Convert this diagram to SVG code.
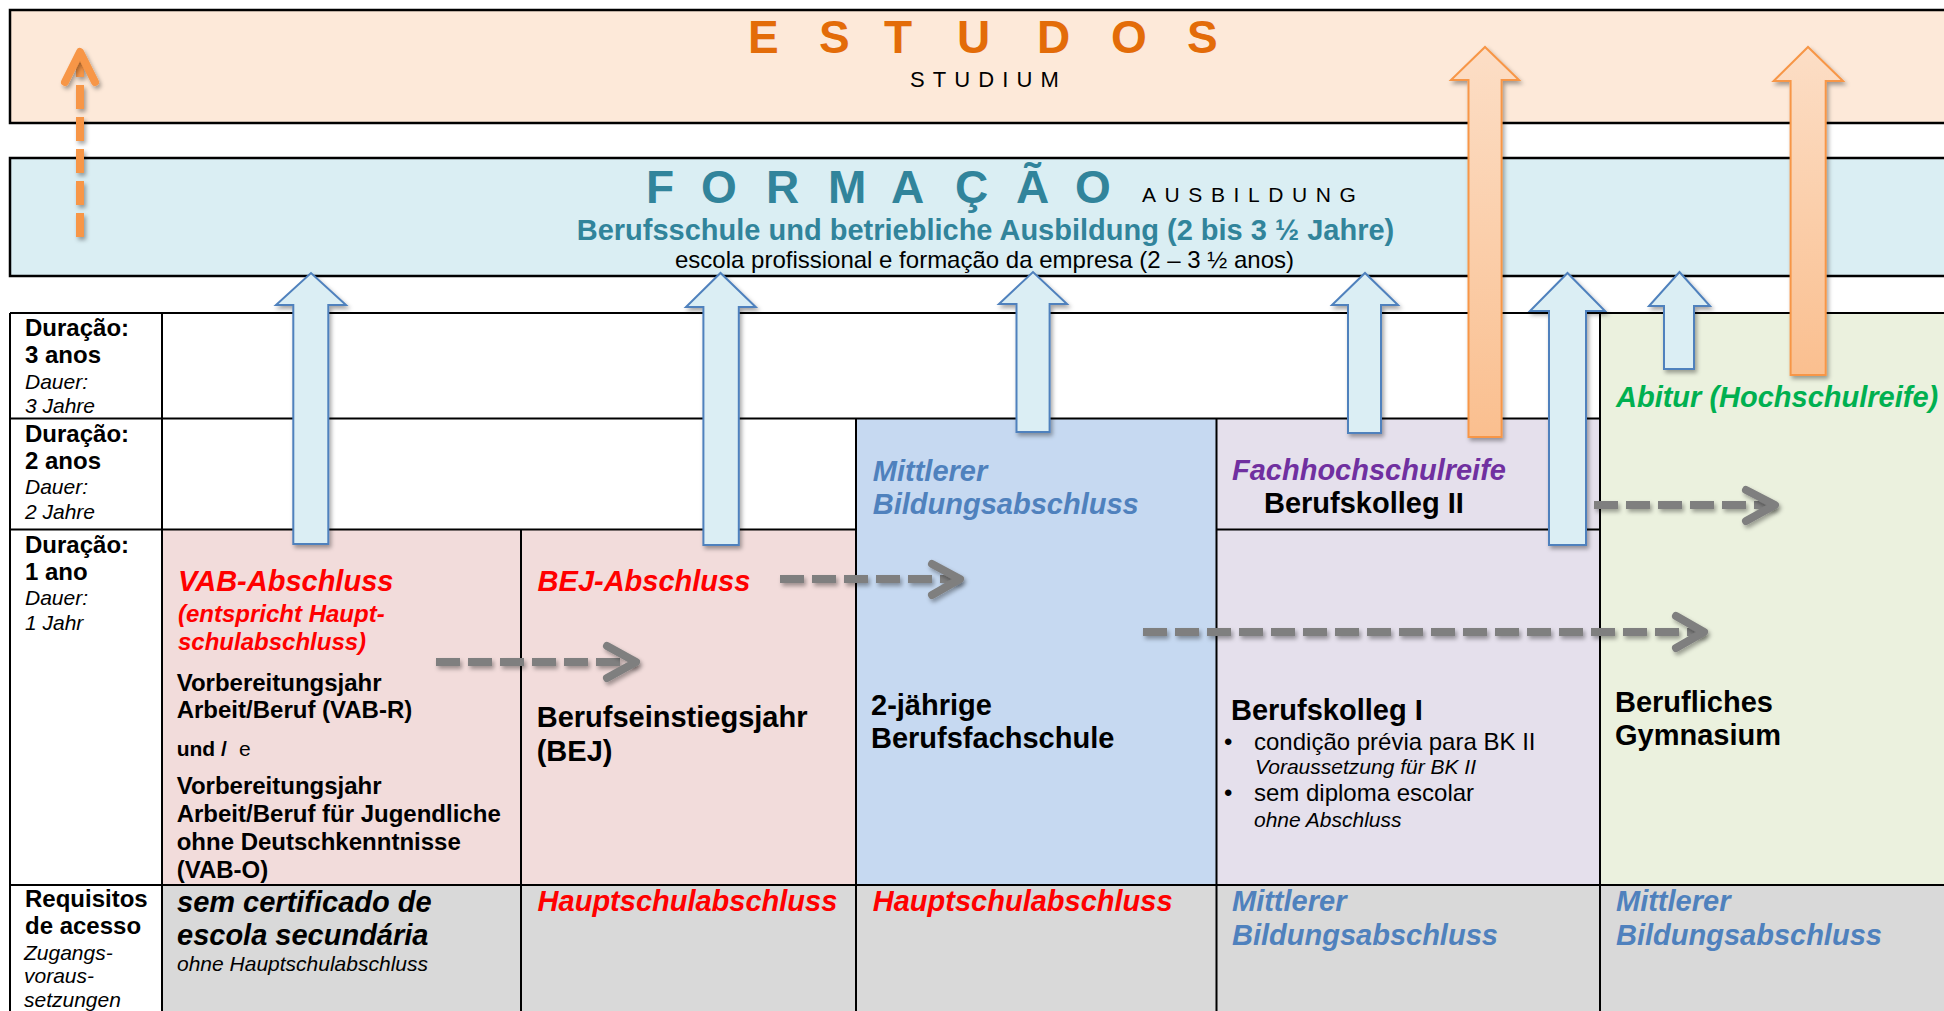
<svg xmlns="http://www.w3.org/2000/svg" width="1944" height="1011" viewBox="0 0 1944 1011">
<defs>
<filter id="sh" filterUnits="userSpaceOnUse" x="0" y="0" width="1944" height="1011">
<feDropShadow dx="2" dy="3" stdDeviation="2" flood-color="#000" flood-opacity="0.35"/>
</filter>
<linearGradient id="og" x1="0" y1="0" x2="0" y2="1">
<stop offset="0" stop-color="#FCDEC6"/>
<stop offset="1" stop-color="#FABF8F"/>
</linearGradient>
<style>
text{font-family:"Liberation Sans",Arial,sans-serif;fill:#000}
.b{font-weight:bold}
.i{font-style:italic}
.s21{font-size:21px}
.s24{font-size:24px}
.s29{font-size:29px}
.s46{font-size:46px}
.red{fill:#FF0000}
.blu{fill:#4F81BD}
.pur{fill:#7030A0}
.grn{fill:#00B050}
.teal{fill:#31849B}
.org{fill:#E36C09}
.box{stroke:#000;stroke-width:2.5}
.grid{stroke:#000;stroke-width:2;fill:none}
.barrow{fill:#DBEEF4;stroke:#4F81BD;stroke-width:2;filter:url(#sh)}
.oarrow{fill:url(#og);stroke:#F79646;stroke-width:2;filter:url(#sh)}
.dash{fill:none;stroke:#7F7F7F;stroke-width:8;stroke-dasharray:24 8;filter:url(#sh)}
.chev{fill:none;stroke:#7F7F7F;stroke-width:8;stroke-linecap:round;stroke-linejoin:round;filter:url(#sh)}
.odash{fill:none;stroke:#F79646;stroke-width:8;stroke-dasharray:24 8;filter:url(#sh)}
.ochev{fill:none;stroke:#F79646;stroke-width:8;stroke-linecap:round;stroke-linejoin:round;filter:url(#sh)}
</style>
</defs>
<rect width="1944" height="1011" fill="#fff"/>

<g id="estudos">
<rect class="box" x="10" y="10" width="1944" height="113" fill="#FDE9D9"/>
<text class="b s46 org" x="748 819 884 957 1037 1111 1187" y="53">ESTUDOS</text>
<text class="s24" style="font-size:22px;letter-spacing:8.1px" x="910" y="87">STUDIUM</text>
</g>

<g id="formacao">
<rect class="box" x="10" y="158" width="1944" height="118" fill="#DAEEF3"/>
<text class="b s46 teal" x="646 701 766 828 891 955 1016 1075" y="203">FORMAÇÃO</text>
<text style="font-size:21px;letter-spacing:8.6px" x="1142" y="202">AUSBILDUNG</text>
<text class="b s29 teal" x="985.5" y="240" text-anchor="middle">Berufsschule und betriebliche Ausbildung (2 bis 3 ½ Jahre)</text>
<text class="s24" x="984.5" y="268" text-anchor="middle">escola profissional e formação da empresa (2 – 3 ½ anos)</text>
</g>

<g id="table-fills">
<rect x="162" y="529.5" width="359" height="355.5" fill="#F2DCDB"/>
<rect x="521" y="529.5" width="335" height="355.5" fill="#F2DCDB"/>
<rect x="856" y="418.5" width="360.5" height="466.5" fill="#C6D9F1"/>
<rect x="1216.5" y="418.5" width="383.5" height="466.5" fill="#E5E0EC"/>
<rect x="1600" y="313" width="344" height="572" fill="#EBF1DE"/>
<rect x="162" y="885" width="1782" height="126" fill="#D9D9D9"/>
</g>

<g id="grid" class="grid">
<path d="M10,313H1944M10,418.5H1600M10,529.5H856M1216.5,529.5H1600M10,885H1944"/>
<path d="M10,313V1011M162,313V1011M521,529.5V1011M856,418.5V1011M1216.5,418.5V1011M1600,313V1011"/>
</g>

<g id="labels">
<text class="b s24" x="25" y="335.7">Duração:</text>
<text class="b s24" x="25" y="362.7">3 anos</text>
<text class="i s21" x="25" y="389">Dauer:</text>
<text class="i s21" x="25" y="413">3 Jahre</text>
<text class="b s24" x="25" y="441.7">Duração:</text>
<text class="b s24" x="25" y="469">2 anos</text>
<text class="i s21" x="25" y="494">Dauer:</text>
<text class="i s21" x="25" y="519.3">2 Jahre</text>
<text class="b s24" x="25" y="552.7">Duração:</text>
<text class="b s24" x="25" y="580">1 ano</text>
<text class="i s21" x="25" y="605">Dauer:</text>
<text class="i s21" x="25" y="630">1 Jahr</text>
<text class="b s24" x="25" y="906.7">Requisitos</text>
<text class="b s24" x="25" y="934.3">de acesso</text>
<text class="i s21" x="24" y="960">Zugangs-</text>
<text class="i s21" x="24" y="983">voraus-</text>
<text class="i s21" x="24" y="1007">setzungen</text>
</g>

<g id="vab">
<text class="b i s29 red" x="178" y="591">VAB-Abschluss</text>
<text class="b i s24 red" x="178" y="622">(entspricht Haupt-</text>
<text class="b i s24 red" x="178" y="650">schulabschluss)</text>
<text class="b s24" x="176.7" y="690.7">Vorbereitungsjahr</text>
<text class="b s24" x="176.7" y="718">Arbeit/Beruf (VAB-R)</text>
<text class="b s21" x="176.7" y="755.7">und /<tspan x="239" font-weight="normal">e</tspan></text>
<text class="b s24" x="176.7" y="794.3">Vorbereitungsjahr</text>
<text class="b s24" x="176.7" y="822.3">Arbeit/Beruf für Jugendliche</text>
<text class="b s24" x="176.7" y="850">ohne Deutschkenntnisse</text>
<text class="b s24" x="176.7" y="877.7">(VAB-O)</text>
<text class="b i s29" x="177" y="911.7">sem certificado de</text>
<text class="b i s29" x="177" y="945">escola secundária</text>
<text class="i s21" x="177" y="971">ohne Hauptschulabschluss</text>
</g>

<g id="bej">
<text class="b i s29 red" x="537.6" y="591">BEJ-Abschluss</text>
<text class="b s29" x="536.7" y="726.6">Berufseinstiegsjahr</text>
<text class="b s29" x="536.7" y="760.5">(BEJ)</text>
<text class="b i s29 red" x="537.6" y="910.5">Hauptschulabschluss</text>
</g>

<g id="berufsfachschule">
<text class="b i s29 blu" x="872.8" y="481">Mittlerer</text>
<text class="b i s29 blu" x="872.8" y="513.5">Bildungsabschluss</text>
<text class="b s29" x="871" y="715">2-jährige</text>
<text class="b s29" x="871" y="748">Berufsfachschule</text>
<text class="b i s29 red" x="872.8" y="910.5">Hauptschulabschluss</text>
</g>

<g id="berufskolleg">
<text class="b i s29 pur" x="1232" y="480">Fachhochschulreife</text>
<text class="b s29" x="1264" y="513">Berufskolleg II</text>
<text class="b s29" x="1231" y="719.6">Berufskolleg I</text>
<text class="s24" x="1224" y="750">•</text>
<text class="s24" x="1254" y="750">condição prévia para BK II</text>
<text class="i s21" x="1255" y="774">Voraussetzung für BK II</text>
<text class="s24" x="1224" y="801.4">•</text>
<text class="s24" x="1254" y="801.4">sem diploma escolar</text>
<text class="i s21" x="1254" y="826.7">ohne Abschluss</text>
<text class="b i s29 blu" x="1232" y="911">Mittlerer</text>
<text class="b i s29 blu" x="1232" y="944.8">Bildungsabschluss</text>
</g>

<g id="gymnasium">
<text class="b i s29 grn" x="1616" y="407">Abitur (Hochschulreife)</text>
<text class="b s29" x="1615" y="711.8">Berufliches</text>
<text class="b s29" x="1615" y="745">Gymnasium</text>
<text class="b i s29 blu" x="1616" y="911">Mittlerer</text>
<text class="b i s29 blu" x="1616" y="944.8">Bildungsabschluss</text>
</g>

<g id="connectors">
<polygon class="barrow" points="293.3,544 293.3,305 276,305 311,273 346,305 328.3,305 328.3,544"/>
<polygon class="barrow" points="703.4,545 703.4,307 686,307 720.5,273 755.7,307 738.8,307 738.8,545"/>
<polygon class="barrow" points="1016.5,432 1016.5,304 999,304 1033,272 1067,304 1049.6,304 1049.6,432"/>
<polygon class="barrow" points="1348,433 1348,305 1332,305 1365,273 1398,305 1381,305 1381,433"/>
<polygon class="barrow" points="1549,545 1549,311 1530,311 1567.5,273 1605,311 1586,311 1586,545"/>
<polygon class="barrow" points="1664,369 1664,306 1649,306 1679.5,272 1710,306 1694,306 1694,369"/>
<polygon class="oarrow" points="1468.5,437 1468.5,80 1451,80 1485,47 1519,80 1501.6,80 1501.6,437"/>
<polygon class="oarrow" points="1790.6,375 1790.6,81 1773.6,81 1808,47 1843,81 1825.7,81 1825.7,375"/>
<path class="odash" d="M80,237V56"/>
<polyline class="ochev" points="65,82 80,52 95,82"/>
<path class="dash" d="M436,662H636"/>
<polyline class="chev" points="607,646 636,662 607,678"/>
<path class="dash" d="M780,579H960"/>
<polyline class="chev" points="932,564 960,579 932,595"/>
<path class="dash" d="M1143,632H1704"/>
<polyline class="chev" points="1676,616 1704,632 1676,648"/>
<path class="dash" d="M1594,505H1775"/>
<polyline class="chev" points="1746,490 1775,505 1746,521"/>
</g>
</svg>
